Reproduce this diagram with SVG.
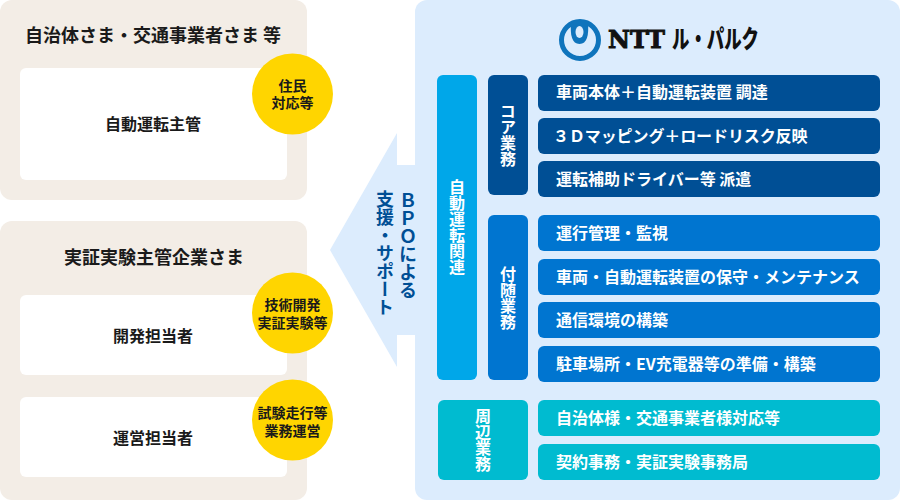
<svg xmlns="http://www.w3.org/2000/svg" width="900" height="500" viewBox="0 0 900 500">
<style>
text{font-family:"Noto Sans CJK JP","Noto Sans",sans-serif;font-weight:700}
.panel{fill:#f3ede6}
.white{fill:#fff}
.badge{fill:#ffd500}
.item{font-size:16px;fill:#fff}
.h{font-size:18px;fill:#1a1a1a;text-anchor:middle}
.m{font-size:16px;fill:#1a1a1a;text-anchor:middle}
.b{font-family:"Liberation Sans","Noto Sans CJK JP",sans-serif;font-size:14px;fill:#1a1a1a;text-anchor:middle}
.v{writing-mode:vertical-rl;text-orientation:upright;fill:#fff;font-size:16px;text-anchor:middle}
.a{writing-mode:vertical-rl;text-orientation:upright;font-size:18px;fill:#004f95;text-anchor:middle}
.navy{fill:#004f95}
.blue{fill:#0075d0}
.cyan{fill:#00a7e9}
.teal{fill:#00bbd0}
</style>
<rect width="900" height="500" fill="#fff"/>
<g id="group-municipal">
<rect class="panel" x="0" y="0" width="307" height="200" rx="12"/>
<text class="h" x="153" y="42">自治体さま・交通事業者さま 等</text>
<rect class="white" x="20" y="68" width="267" height="112" rx="6"/>
<text class="m" x="153" y="130">自動運転主管</text>
<circle class="badge" cx="292.500" cy="94" r="40.500"/>
<text class="b"><tspan x="292.500" y="91">住民</tspan><tspan x="292.500" y="108">対応等</tspan></text>
</g>
<g id="group-enterprise">
<rect class="panel" x="0" y="221" width="307" height="279" rx="12"/>
<text class="h" x="154" y="264">実証実験主管企業さま</text>
<rect class="white" x="20" y="295" width="267" height="80" rx="6"/>
<text class="m" x="153" y="342">開発担当者</text>
<rect class="white" x="20" y="397" width="267" height="80" rx="6"/>
<text class="m" x="153" y="444">運営担当者</text>
<circle class="badge" cx="292.500" cy="313" r="40.500"/>
<text class="b"><tspan x="292.500" y="310">技術開発</tspan><tspan x="292.500" y="328">実証実験等</tspan></text>
<circle class="badge" cx="292.500" cy="420" r="40.500"/>
<text class="b"><tspan x="292.500" y="418">試験走行等</tspan><tspan x="292.500" y="436">業務運営</tspan></text>
</g>
<g id="nttlp">
<rect x="415" y="0" width="485" height="500" rx="12" fill="#dcecfd"/>
<polygon points="330,250 397,133 397,165 420,165 420,335 397,335 397,367" fill="#dcecfd"/>
<text class="a" x="408" y="245">ＢＰＯによる</text>
<text class="a" x="385" y="253">支援・サポート</text>
<g id="logo">
<circle cx="580" cy="40" r="18.500" fill="none" stroke="#0f74bc" stroke-width="5"/>
<path d="M571 23 C570 35 572 44 579.500 44 C587 44 589 35 588 23 Z" fill="#0f74bc"/>
<ellipse cx="579.500" cy="32" rx="4" ry="6" fill="#dcecfd"/>
<text x="608" y="48" style="font-family:'DejaVu Serif',serif;font-weight:700;font-size:25px;fill:#111;stroke:#111;stroke-width:1" textLength="57" lengthAdjust="spacingAndGlyphs">NTT</text>
<text x="672" y="48" style="font-size:25px;fill:#111;font-weight:900" textLength="87" lengthAdjust="spacingAndGlyphs">ル・パルク</text>
</g>
</g>
<g id="cat-auto"><rect class="cyan" x="437" y="75" width="40" height="305" rx="6"/><text class="v" x="457" y="227">自動運転関連</text></g>
<g id="cat-core"><rect class="navy" x="488" y="75" width="40" height="120" rx="6"/><text class="v" x="508" y="135">コア業務</text></g>
<g id="cat-sub"><rect class="blue" x="488" y="215" width="40" height="165" rx="6"/><text class="v" x="508" y="298">付随業務</text></g>
<g id="cat-peri"><rect class="teal" x="438" y="400" width="90" height="80" rx="6"/><text class="v" x="483" y="440">周辺業務</text></g>
<g id="i1"><rect class="navy" x="538" y="75" width="342" height="36" rx="6"/><text class="item" x="556" y="98">車両本体＋自動運転装置 調達</text></g>
<g id="i2"><rect class="navy" x="538" y="118" width="342" height="36" rx="6"/><text class="item" x="553" y="142" letter-spacing="-.1">３Ｄマッピング＋ロードリスク反映</text></g>
<g id="i3"><rect class="navy" x="538" y="161" width="342" height="36" rx="6"/><text class="item" x="556" y="185">運転補助ドライバー等 派遣</text></g>
<g id="i4"><rect class="blue" x="538" y="215" width="342" height="36" rx="6"/><text class="item" x="556" y="239">運行管理・監視</text></g>
<g id="i5"><rect class="blue" x="538" y="259" width="342" height="36" rx="6"/><text class="item" x="556" y="283">車両・自動運転装置の保守・メンテナンス</text></g>
<g id="i6"><rect class="blue" x="538" y="302" width="342" height="36" rx="6"/><text class="item" x="556" y="326">通信環境の構築</text></g>
<g id="i7"><rect class="blue" x="538" y="346" width="342" height="36" rx="6"/><text class="item" x="556" y="370">駐車場所・EV充電器等の準備・構築</text></g>
<g id="i8"><rect class="teal" x="538" y="400" width="342" height="36" rx="6"/><text class="item" x="556" y="424">自治体様・交通事業者様対応等</text></g>
<g id="i9"><rect class="teal" x="538" y="444" width="342" height="36" rx="6"/><text class="item" x="556" y="468">契約事務・実証実験事務局</text></g>
</svg>
